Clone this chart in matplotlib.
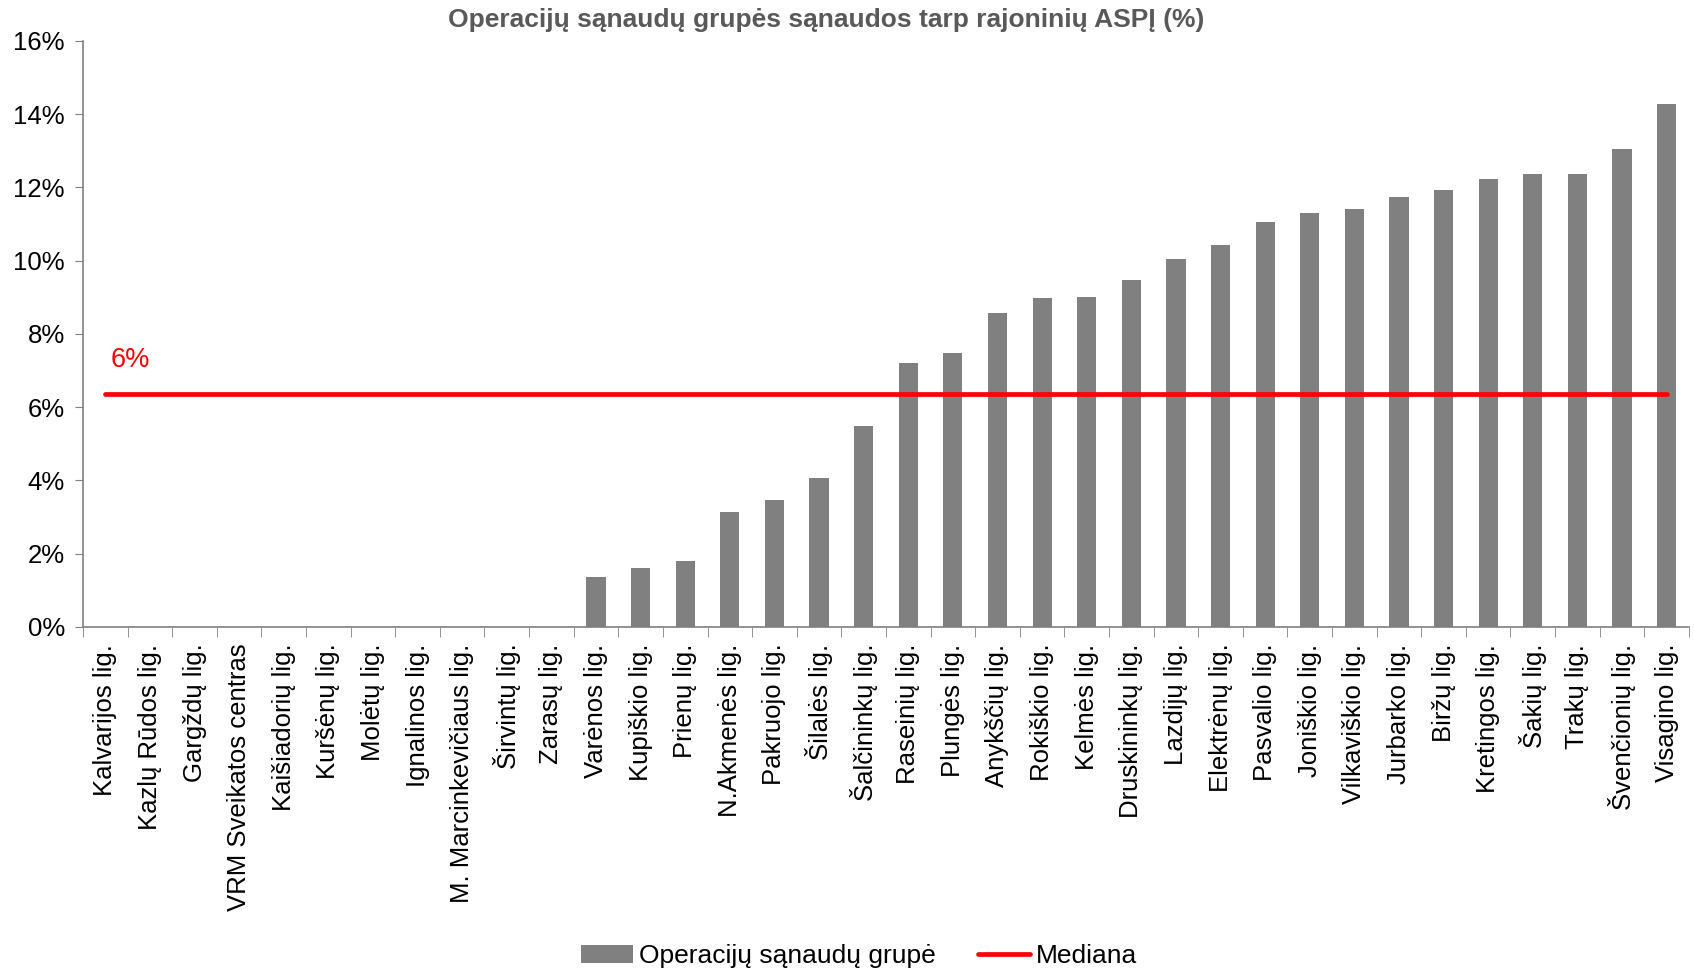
import numpy as np
import matplotlib.pyplot as plt
from matplotlib.ticker import FixedLocator, PercentFormatter

plt.rcParams['font.family'] = ['Liberation Sans', 'DejaVu Sans']

# Hospitals, sorted by share of operating costs (%).
hospitals = [
    "Kalvarijos lig.", "Kazlų Rūdos lig.", "Gargždų lig.", "VRM Sveikatos centras",
    "Kaišiadorių lig.", "Kuršėnų lig.", "Molėtų lig.", "Ignalinos lig.",
    "M. Marcinkevičiaus lig.", "Širvintų lig.", "Zarasų lig.", "Varėnos lig.",
    "Kupiškio lig.", "Prienų lig.", "N.Akmenės lig.", "Pakruojo lig.",
    "Šilalės lig.", "Šalčininkų lig.", "Raseinių lig.", "Plungės lig.",
    "Anykščių lig.", "Rokiškio lig.", "Kelmės lig.", "Druskininkų lig.",
    "Lazdijų lig.", "Elektrėnų lig.", "Pasvalio lig.", "Joniškio lig.",
    "Vilkaviškio lig.", "Jurbarko lig.", "Biržų lig.", "Kretingos lig.",
    "Šakių lig.", "Trakų lig.", "Švenčionių lig.", "Visagino lig.",
]
op_costs = [
    0, 0, 0, 0, 0, 0, 0, 0, 0, 0, 0,
    1.36, 1.62, 1.80, 3.13, 3.48, 4.07, 5.49, 7.21, 7.47,
    8.56, 8.97, 9.00, 9.48, 10.04, 10.43, 11.07, 11.31, 11.42,
    11.73, 11.93, 12.22, 12.37, 12.37, 13.05, 14.27,
]
median_value = 6.37
median_label = "6%"

fig = plt.figure(figsize=(16.94, 9.76), dpi=100)
ax = fig.add_axes([0.049, 0.3576, 0.948, 0.6004])

x = np.arange(len(hospitals))
bars = ax.bar(x, op_costs, width=0.43, color='#808080', label='Operacijų sąnaudų grupė', zorder=2)
line, = ax.plot([x[0], x[-1]], [median_value, median_value], color='#ff0000', linewidth=3.4,
                solid_capstyle='round', label='Mediana', zorder=3)
ax.text(x[0] + 0.12, 7.29, median_label, color='#ff0000', fontsize=19.5, va='center', ha='left')

ax.set_xlim(-0.5, len(hospitals) - 0.5)
ax.set_ylim(0, 16)
ax.set_yticks(np.arange(0, 17, 2))
ax.yaxis.set_major_formatter(PercentFormatter(decimals=0))
ax.set_xticks(x)
ax.set_xticklabels(hospitals, rotation=90, fontsize=18.5)
ax.xaxis.set_minor_locator(FixedLocator(np.arange(-0.5, len(hospitals), 1)))
ax.tick_params(axis='x', which='major', length=0, pad=12)
ax.tick_params(axis='x', which='minor', length=7, color='#808080', direction='out')
ax.tick_params(axis='y', length=6, color='#808080', labelsize=18.5, pad=7)

for side in ['top', 'right']:
    ax.spines[side].set_visible(False)
for side in ['left', 'bottom']:
    ax.spines[side].set_color('#808080')
    ax.spines[side].set_linewidth(1.2)

fig.suptitle("Operacijų sąnaudų grupės sąnaudos tarp rajoninių ASPĮ (%)",
             x=0.488, y=0.992, va='top', fontsize=19, fontweight='bold', color='#595959')

fig.legend([bars, line], ['Operacijų sąnaudų grupė', 'Mediana'], loc='center',
           bbox_to_anchor=(0.507, 0.02), ncol=2, frameon=False, fontsize=19,
           handlelength=2.0, columnspacing=1.6, handletextpad=0.2)

fig.savefig('out.png', dpi=100)
